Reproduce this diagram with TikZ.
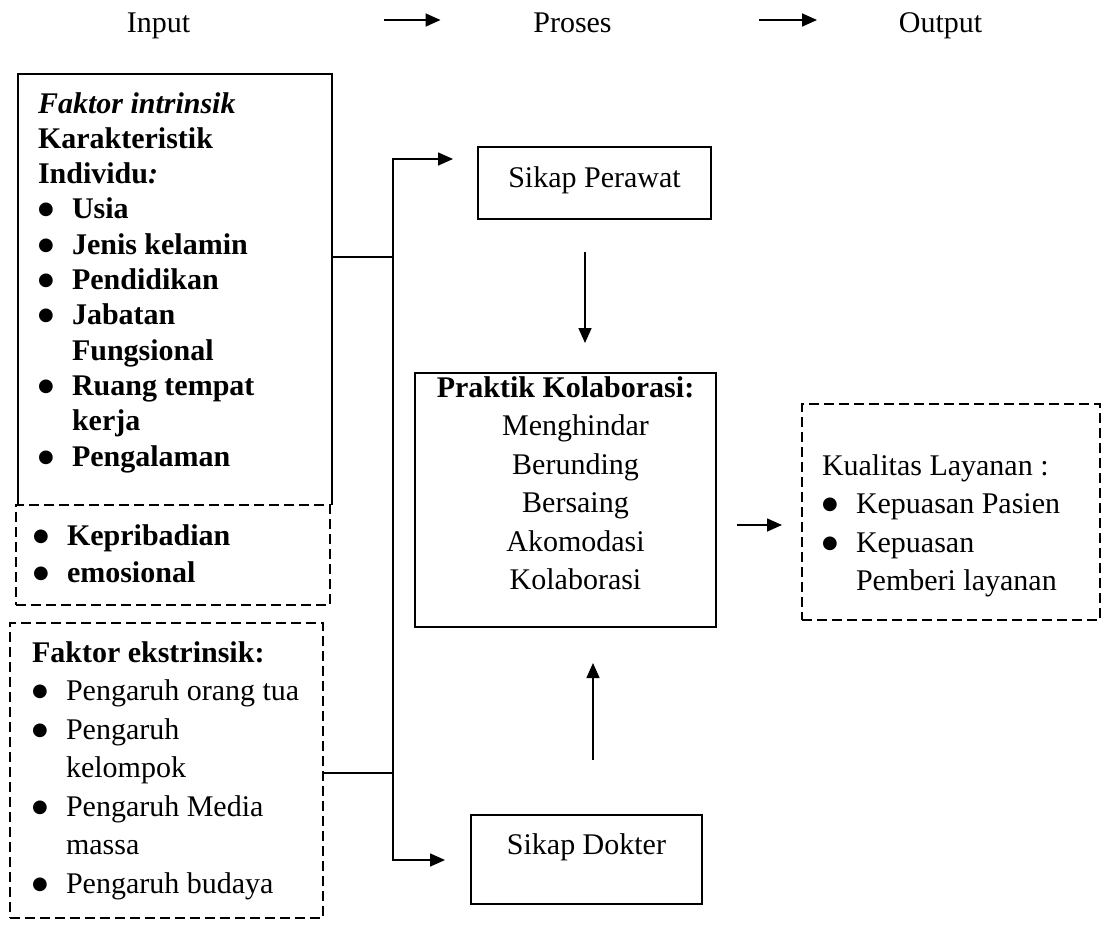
\documentclass[tikz,border=0pt]{standalone}
\usepackage{fontspec}
\setmainfont{Liberation Serif}
\newfontfamily\dotfont{DejaVu Sans}
\usetikzlibrary{arrows.meta,calc}
\newcommand{\itm}{\makebox[34pt][l]{\raisebox{4pt}{\dotfont\fontsize{18}{18}\selectfont ●}}}
\newcommand{\ind}{\hspace*{34pt}}
\newcommand{\sub}{\hspace*{20pt}}

\begin{document}
\begin{tikzpicture}[%
    x=1pt, y=-1pt,                          % pixel-like coordinates, y going down
    >={Triangle[length=15pt,width=13pt]},   % filled arrow heads
    line width=1.6pt
    ]
% -------------------------------------------------
% Box styles
\tikzset{
  base/.style={rectangle, outer sep=0pt, inner ysep=0pt, anchor=north west},
  proc/.style={base, draw, align=flush center, inner xsep=10pt},
  list/.style={base, align=flush left},
  dbox/.style={list, draw, dash pattern=on 10pt off 5pt},
  head/.style={inner sep=0pt, anchor=base},
  txt/.style={font=\fontsize{30}{#1}\selectfont},
  txt/.default=38.5
}
\useasboundingbox (0,0) rectangle (1105,932);

% -------------------------------------------------
% Header line
\node[head, txt] (inp) at (158.5,32) {Input};
\node[head, txt] (pro) at (572.5,32) {Proses};
\node[head, txt] (out) at (940.5,32) {Output};

% -------------------------------------------------
% Left nodes (input)
\node[list, txt=35.3, text width=274pt, inner xsep=20pt,
      text height=39pt, text depth=392pt] (intr) at (18,74)
  {\bfseries\textit{Faktor intrinsik}\\
   Karakteristik\\
   Individu\textit{:}\\
   \itm Usia\\
   \itm Jenis kelamin\\
   \itm Pendidikan\\
   \itm Jabatan\\
   \ind Fungsional\\
   \itm Ruang tempat\\
   \ind kerja\\
   \itm Pengalaman};
\draw (intr.south west) |- (intr.north east) -- (intr.south east);

\node[dbox, txt=37, text width=280pt, inner xsep=17pt,
      text height=40pt, text depth=60pt] (pers) at (16,505)
  {\bfseries\itm Kepribadian\\ \itm emosional};

\node[dbox, txt, text width=269pt, inner xsep=22pt,
      text height=39pt, text depth=256pt] (ekst) at (10,623)
  {\textbf{Faktor ekstrinsik:}\\
   \itm Pengaruh orang tua\\
   \itm Pengaruh\\
   \ind kelompok\\
   \itm Pengaruh Media\\
   \ind massa\\
   \itm Pengaruh budaya};

% -------------------------------------------------
% Middle nodes (process)
\node[proc, txt, text width=213pt, text height=40pt, text depth=32pt] (pera) at (478,147) {Sikap Perawat};
\node[proc, txt, text width=281pt, text height=24pt, text depth=230pt] (prak) at (415,373)
  {\textbf{Praktik Kolaborasi:}\\ \sub Menghindar\\ \sub Berunding\\ \sub Bersaing\\ \sub Akomodasi\\ \sub Kolaborasi};
\node[proc, txt, text width=211pt, text height=39pt, text depth=50pt] (dokt) at (471,815) {Sikap Dokter};

% -------------------------------------------------
% Right node (output)
\node[dbox, txt, text width=258pt, inner xsep=20pt,
      text height=71pt, text depth=145pt] (kual) at (802,404)
  {Kualitas Layanan :\\
   \itm Kepuasan Pasien\\
   \itm Kepuasan\\
   \ind Pemberi layanan};

% -------------------------------------------------
% Header arrows
\draw[->, shorten <=193pt, shorten >=92pt] (inp.east |- 0,20) -- (pro.west |- 0,20);
\draw[->, shorten <=147pt, shorten >=81pt] (pro.east |- 0,20) -- (out.west |- 0,20);

% the bus from both input boxes to the two attitudes
\coordinate (btop) at (393,159);
\coordinate (bbot) at (393,860);
\draw[<->, shorten <=25pt, shorten >=26pt] (btop -| pera.west) -- (btop) -- (bbot) -- (bbot -| dokt.west);
\draw (intr.east |- 0,257) -- (btop |- 0,257);
\draw (ekst.east |- 0,773) -- (btop |- 0,773);

% into and out of the collaboration box
\draw[->, shorten <=33pt, shorten >=30pt] (pera.south -| 585,0) -- (prak.north -| 585,0);
\draw[->, shorten <=55pt, shorten >=36pt] (dokt.north -| 593,0) -- (prak.south -| 593,0);
\draw[->, shorten <=21pt, shorten >=20pt] (prak.east |- 0,525) -- (kual.west |- 0,525);
\end{tikzpicture}
\end{document}
